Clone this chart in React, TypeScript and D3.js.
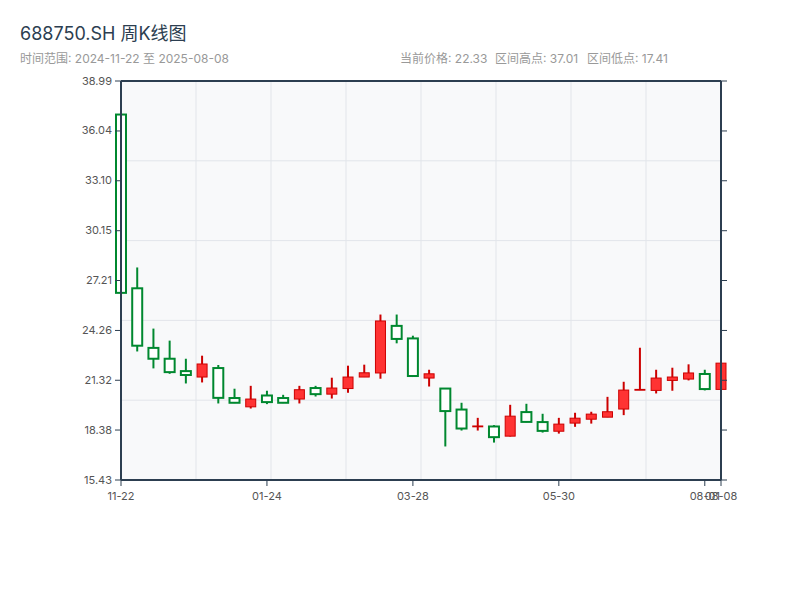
import React, { useEffect } from "react";
import * as d3 from "d3";

const dates = [
  "2024-11-22","2024-11-29","2024-12-06","2024-12-13","2024-12-20","2024-12-27",
  "2025-01-03","2025-01-10","2025-01-17","2025-01-24","2025-01-31","2025-02-07",
  "2025-02-14","2025-02-21","2025-02-28","2025-03-07","2025-03-14","2025-03-21",
  "2025-03-28","2025-04-04","2025-04-11","2025-04-18","2025-04-25","2025-05-02",
  "2025-05-09","2025-05-16","2025-05-23","2025-05-30","2025-06-06","2025-06-13",
  "2025-06-20","2025-06-27","2025-07-04","2025-07-11","2025-07-18","2025-07-25",
  "2025-08-01","2025-08-08",
];
const opens = [
  37.01, 26.75, 23.23, 22.59, 21.86, 21.51, 22.04, 20.27, 19.75, 20.42,
  20.27, 20.21, 20.86, 20.5, 20.83, 21.51, 21.75, 24.53, 23.79, 21.45,
  20.83, 19.59, 18.57, 18.59, 18.02, 19.44, 18.85, 18.31, 18.79, 19.02,
  19.14, 19.62, 20.74, 20.72, 21.31, 21.39, 21.69, 20.78,
];
const closes = [
  26.48, 23.36, 22.59, 21.8, 21.63, 22.28, 20.28, 19.99, 20.21, 20.03,
  19.99, 20.76, 20.5, 20.86, 21.51, 21.76, 24.82, 23.76, 21.57, 21.7,
  19.5, 18.47, 18.62, 17.96, 19.2, 18.86, 18.33, 18.73, 19.08, 19.32,
  19.46, 20.74, 20.78, 21.45, 21.51, 21.75, 20.8, 22.33,
];
const highs = [
  37.01, 27.98, 24.37, 23.66, 22.59, 22.77, 22.22, 20.82, 20.99, 20.7,
  20.46, 20.99, 20.99, 21.47, 22.18, 22.24, 25.2, 25.2, 23.95, 21.94,
  20.83, 19.99, 19.1, 18.67, 19.87, 19.93, 19.34, 19.1, 19.4, 19.46,
  20.34, 21.23, 23.24, 21.94, 22.06, 22.26, 21.94, 23.3,
];
const lows = [
  26.48, 23.02, 22.02, 21.7, 21.13, 21.19, 19.95, 19.97, 19.65, 19.91,
  19.97, 19.95, 20.36, 20.24, 20.58, 21.51, 21.41, 23.5, 21.51, 20.95,
  17.41, 18.35, 18.35, 17.64, 18.0, 18.84, 18.23, 18.17, 18.57, 18.76,
  19.14, 19.26, 20.74, 20.54, 20.7, 21.31, 20.72, 20.78,
];
const yTicks = [15.43, 18.38, 21.32, 24.26, 27.21, 30.15, 33.1, 36.04, 38.99];
const xTickIdx = [0, 9, 18, 27, 36, 37];
const statLabels = ["当前价格: 22.33", "区间高点: 37.01", "区间低点: 17.41"];

const W = 800;
const H = 600;
const L = 121;
const R = 721;
const T = 81;
const B = 480;

const FONT = "Inter, 'Noto Sans CJK SC', sans-serif";
const AXIS = "#2c3e50";
const UP_FILL = "#ff3333";
const UP_STROKE = "#cc0000";
const DOWN = "#00882f";

export default function App() {
  useEffect(() => {
    document.body.style.margin = "0";
  }, []);

  const parse = d3.timeParse("%Y-%m-%d");
  const fmt = d3.timeFormat("%m-%d");
  const dts = dates.map((d) => parse(d) as Date);
  const x = d3.scaleTime().domain([dts[0], dts[dts.length - 1]]).range([L, R]);
  const y = d3.scaleLinear().domain([yTicks[0], yTicks[yTicks.length - 1]]).range([B, T]);
  const bw = 10;

  const gridX = d3.range(1, 8).map((k) => L + ((R - L) * k) / 8);
  const gridY = d3.range(1, 5).map((k) => T + ((B - T) * k) / 5);
  const statX = [400, 495, 587];

  return (
    <svg width={W} height={H} style={{ display: "block", background: "#fff", fontFamily: FONT }}>
      <text x={20} y={40} fontSize={18} fill="#2c3e50">688750.SH 周K线图</text>
      <text x={20} y={63} fontSize={12} fill="#999">时间范围: 2024-11-22 至 2025-08-08</text>
      {statLabels.map((s, i) => (
        <text key={"st" + i} x={statX[i]} y={63} fontSize={12} fill="#999">{s}</text>
      ))}

      <rect x={L} y={T} width={R - L} height={B - T} fill="#f8f9fa" />
      {gridX.map((gx, i) => (
        <line key={"gx" + i} x1={gx} x2={gx} y1={T} y2={B} stroke="#e2e5ea" strokeWidth={1} />
      ))}
      {gridY.map((gy, i) => (
        <line key={"gy" + i} x1={L} x2={R} y1={gy} y2={gy} stroke="#e2e5ea" strokeWidth={1} />
      ))}

      {dts.map((d, i) => {
        const up = closes[i] >= opens[i];
        const cx = x(d);
        const top = y(Math.max(opens[i], closes[i]));
        const bot = y(Math.min(opens[i], closes[i]));
        const h = Math.max(bot - top, 0.8);
        return (
          <g key={"c" + i}>
            <line x1={cx} x2={cx} y1={y(highs[i])} y2={y(lows[i])}
              stroke={up ? UP_STROKE : DOWN} strokeWidth={2} />
            <rect x={cx - bw / 2} y={top} width={bw} height={h}
              fill={up ? UP_FILL : "#ffffff"} stroke={up ? UP_STROKE : DOWN}
              strokeWidth={up ? 1 : 2} />
          </g>
        );
      })}

      <line x1={L} x2={R} y1={T} y2={T} stroke={AXIS} strokeWidth={2} />
      <line x1={L} x2={L} y1={T} y2={B} stroke={AXIS} strokeWidth={2} />
      <line x1={R} x2={R} y1={T} y2={B} stroke={AXIS} strokeWidth={2} />
      <line x1={L} x2={R} y1={B} y2={B} stroke={AXIS} strokeWidth={2} />

      {yTicks.map((t, i) => (
        <g key={"yt" + i}>
          <line x1={L - 6} x2={L} y1={y(t)} y2={y(t)} stroke={AXIS} strokeWidth={1} />
          <line x1={R} x2={R + 6} y1={y(t)} y2={y(t)} stroke={AXIS} strokeWidth={1} />
          <text x={L - 9} y={y(t)} dy="0.32em" textAnchor="end" fontSize={11} fill="#555">
            {t.toFixed(2)}
          </text>
        </g>
      ))}
      {xTickIdx.map((k) => (
        <g key={"xt" + k}>
          <line x1={x(dts[k])} x2={x(dts[k])} y1={B} y2={B + 6} stroke={AXIS} strokeWidth={1} />
          <text x={x(dts[k])} y={B + 20} textAnchor="middle" fontSize={11} fill="#555">
            {fmt(dts[k])}
          </text>
        </g>
      ))}
    </svg>
  );
}
